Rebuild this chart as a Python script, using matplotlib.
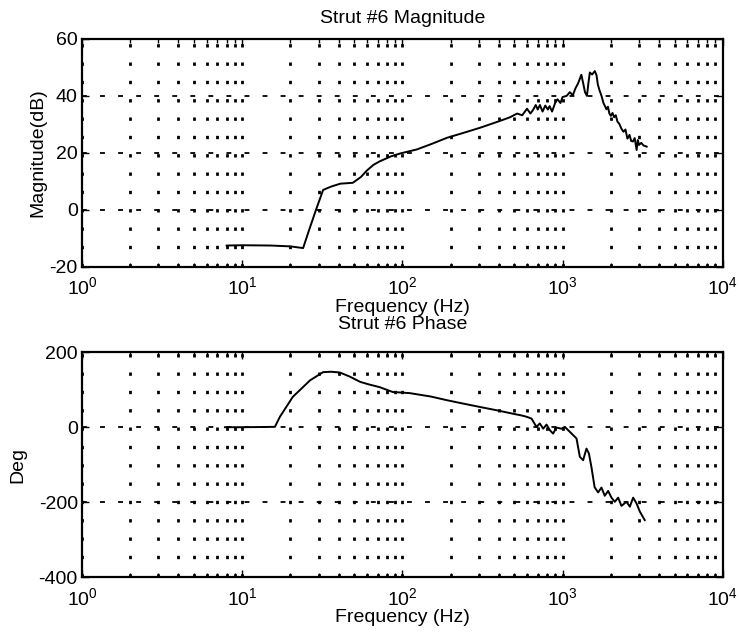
import numpy as np
import matplotlib
matplotlib.use("Agg")
import matplotlib.pyplot as plt
from matplotlib.ticker import LogLocator, NullFormatter

plt.rcParams['font.family'] = ['Liberation Sans', 'DejaVu Sans']
plt.rcParams['mathtext.default'] = 'regular'
plt.rcParams['axes.unicode_minus'] = False
plt.rcParams['font.size'] = 14

# magnitude response
mag_freq = [8, 10, 15, 20, 24, 26, 29, 32, 36, 41, 49, 55, 60, 66, 72, 85, 97,
            123, 150, 190, 240, 305, 406, 470, 520, 560, 600, 630, 653, 680,
            700, 722, 750, 780, 810, 830, 860, 900, 930, 970, 1000, 1060, 1110,
            1160, 1200, 1250, 1310, 1350, 1380, 1420, 1450, 1480, 1530, 1590,
            1630, 1660, 1700, 1750, 1800, 1880, 1920, 1960, 2000, 2050, 2100,
            2150, 2200, 2260, 2330, 2400, 2470, 2540, 2620, 2680, 2750, 2820,
            2900, 2950, 3000, 3100, 3200, 3350]
mag_db = [-12.5, -12.4, -12.5, -12.8, -13.4, -7.5, 0.3, 7, 8.2, 9.2, 9.5, 11.5,
          13.8, 15.8, 17, 18.8, 19.8, 21.2, 23, 25.3, 27, 28.8, 31.2, 32.5,
          33.8, 33.2, 35.5, 33.8, 35, 36.8, 35.2, 36.8, 34.5, 36.6, 35.2, 36.4,
          34.5, 37.6, 38.8, 37.5, 39.6, 40, 41.3, 40.2, 42.5, 44.4, 47.4, 44,
          41.3, 40, 44.5, 48.2, 47.5, 48.7, 47.2, 44, 42, 40, 37.5, 35.3, 36.2,
          33.8, 33, 34, 32.5, 33.2, 31, 30.2, 28.5, 27.4, 28.2, 25, 26.3, 24.2,
          24, 25.2, 21, 24.5, 22.8, 23.5, 22.6, 22.2]

# phase response
ph_freq = [7.8, 10, 13, 16, 17.2, 20.7, 26.5, 32, 36, 40.7, 47, 54.5, 62, 72,
           87, 111, 150, 190, 240, 305, 390, 490, 560, 595, 640, 687, 721, 757,
           794, 833, 873, 916, 985, 1033, 1084, 1164, 1222, 1282, 1344, 1410,
           1460, 1514, 1585, 1667, 1749, 1835, 1925, 2020, 2119, 2223, 2332,
           2506, 2630, 2759, 2894, 3036, 3260]
ph_deg = [0, 0, 0.5, 1, 28, 81, 125, 147, 148, 146, 135, 121, 114, 107, 94, 91,
          82, 72, 63, 54, 45, 36, 31, 28, 23, 1, 10, -4, 7, -8, -17, -1, -4, 1,
          -8, -21, -30, -79, -88, -57, -70, -106, -160, -174, -161, -183, -170,
          -188, -199, -188, -210, -199, -212, -188, -203, -225, -248]

mag_ticks = [-20, 0, 20, 40, 60]
ph_ticks = [-400, -200, 0, 200]


def style_axes(ax, yticks):
    ax.set_xscale('log')
    ax.set_xlim(1, 1e4)
    ax.set_ylim(yticks[0], yticks[-1])
    ax.set_yticks(yticks)
    ax.set_xticks([1, 10, 100, 1000, 10000])
    ax.xaxis.set_minor_locator(LogLocator(base=10, subs=np.arange(2, 10), numticks=20))
    ax.xaxis.set_minor_formatter(NullFormatter())
    ax.tick_params(which='both', direction='in', top=True, right=True, labelsize=14)
    ax.tick_params(which='major', length=5, width=1)
    ax.tick_params(which='minor', length=3, width=1)
    ax.tick_params(axis='x', pad=7)
    ax.tick_params(axis='y', pad=3)
    # MATLAB style grid: dotted verticals at every tick, dashed horizontals
    ax.xaxis.grid(True, which='both', color='k', linewidth=2.0, linestyle=(0, (1.2, 5.4)))
    ax.yaxis.grid(True, which='major', color='k', linewidth=1.3, linestyle=(0, (2.7, 7.3)))
    for s in ax.spines.values():
        s.set_linewidth(1.6)
    ax.set_axisbelow(True)


fig = plt.figure(figsize=(7.39, 6.37), dpi=100)
ax1 = fig.add_axes([0.111, 0.581, 0.867, 0.358])
ax2 = fig.add_axes([0.111, 0.094, 0.867, 0.353])

ax1.plot(mag_freq, mag_db, color='k', linewidth=1.4)
style_axes(ax1, mag_ticks)
ax1.set_title('Strut #6 Magnitude', fontsize=14, pad=11.5)
ax1.set_xlabel('Frequency (Hz)', fontsize=14, labelpad=0)
ax1.set_ylabel('Magnitude(dB)', fontsize=14, labelpad=2)

ax2.plot(ph_freq, ph_deg, color='k', linewidth=1.4)
style_axes(ax2, ph_ticks)
ax2.set_title('Strut #6 Phase', fontsize=14, pad=17)
ax2.set_xlabel('Frequency (Hz)', fontsize=14, labelpad=0)
ax2.set_ylabel('Deg', fontsize=14, labelpad=9)

fig.savefig('out.png', dpi=100)
